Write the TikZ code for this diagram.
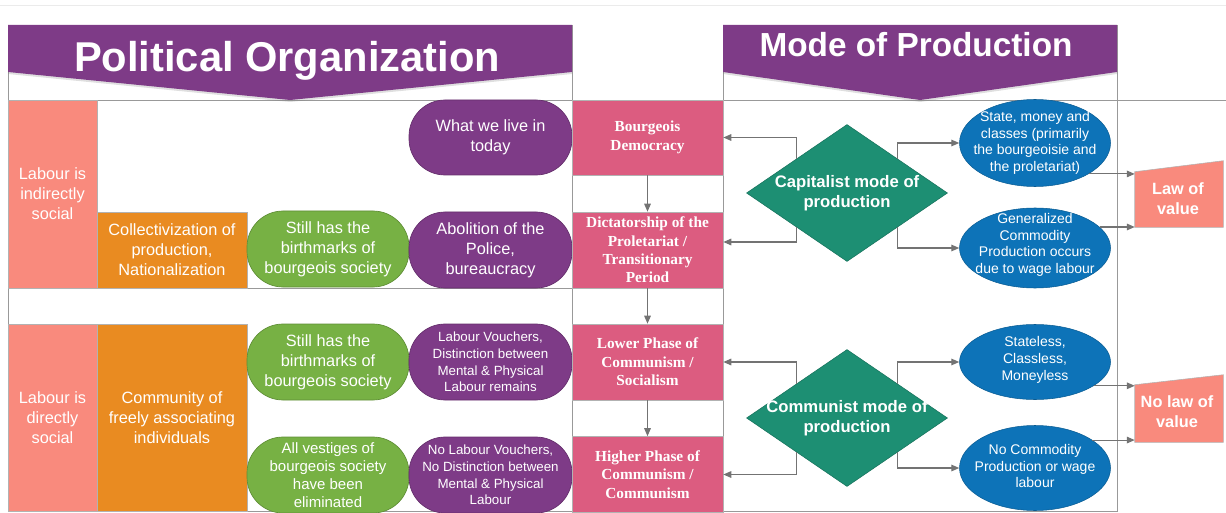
\documentclass[tikz,border=0pt]{standalone}
\usepackage{fontspec}
\setmainfont{Liberation Sans}
\newfontfamily\phasefont{Liberation Serif}
\usepackage{tikz}
\usetikzlibrary{arrows.meta}
\usetikzlibrary{positioning,calc}
\usetikzlibrary{shapes,shadows}
\usepackage{xcolor}
\definecolor{salmon}{HTML}{F98A7D}
\definecolor{ochre}{HTML}{E98B21}
\definecolor{leaf}{HTML}{77B144}
\definecolor{plum}{HTML}{7E3B87}
\definecolor{rose}{HTML}{DC5C80}
\definecolor{jade}{HTML}{1D8F73}
\definecolor{ocean}{HTML}{0D73B8}
\tikzset{
    every node/.style={font=\rmfamily},
    arrow/.style={
        draw=black!55,
        line width=0.8pt,
        -{Triangle[length=6pt, width=5pt]}
    },
    frame/.style={
        draw=black!40,
        line width=0.6pt
    }
}

\begin{document}
\begin{tikzpicture}[x=0.75pt, y=-0.75pt]
  \tikzset{
    box/.style={
      draw=black!30,
      line width=0.5pt,
      inner sep=0pt,
      align=center,
      text=white,
      font=\fontsize{12.25}{15}\selectfont
    },
    labourbox/.style={box, fill=salmon, minimum width=66.75pt},
    ochrebox/.style={box, fill=ochre, minimum width=112.5pt},
    pill/.style={box, rounded corners=27pt, minimum height=57pt},
    greenpill/.style={pill, fill=leaf, draw=leaf!80!black, minimum width=121.5pt},
    purplepill/.style={pill, fill=plum, draw=plum!80!black, minimum width=122.25pt},
    phase/.style={box, fill=rose, minimum width=113.25pt, minimum height=57pt,
      font=\phasefont\bfseries\fontsize{11.5}{13.75}\selectfont},
    modediamond/.style={diamond, fill=jade, draw=jade!80!black, inner sep=0pt,
      minimum width=150.75pt, minimum height=102.75pt},
    modetext/.style={align=center, text=white,
      font=\bfseries\fontsize{12.5}{15}\selectfont},
    oval/.style={ellipse, fill=ocean, draw=ocean!80!black, inner sep=0pt,
      minimum width=113.25pt},
    ovaltext/.style={align=center, text=white,
      font=\fontsize{10.5}{12.5}\selectfont},
    valuebox/.style={inner sep=0pt, minimum width=66pt},
    valuetext/.style={align=center, text=white,
      font=\bfseries\fontsize{12.25}{15}\selectfont},
    banner/.style={fill=plum, drop shadow={shadow xshift=0pt, shadow yshift=-1.5pt, opacity=0.25}},
    title/.style={anchor=base, text=white, inner sep=0pt}
  }

  \useasboundingbox (0,0) rectangle (1226,513);
  \draw[black!8] (0,5) -- (1226,5);

  % frames
  \draw[frame] (8,25) -- (8,511) -- (1117,511) -- (1117,25);
  \draw[frame] (572,25) -- (572,511);
  \draw[frame] (723,25) -- (723,511);
  \draw[frame] (8,100) -- (1226,100);
  \draw[frame] (8,288) -- (572,288);

  % headers
  \fill[banner] (8,25) -- (572,25) -- (572,72) -- (290,100) -- (8,72) -- cycle;
  \fill[banner] (723,25) -- (1117,25) -- (1117,72) -- (920,100) -- (723,72) -- cycle;
  \node[title, font=\bfseries\fontsize{31.25}{34}\selectfont] (poltitle) at (287,72) {Political Organization};
  \node[title, font=\bfseries\fontsize{25}{28}\selectfont] (modetitle) at (916,57) {Mode of Production};

  % political organization
  \node[labourbox, minimum height=141pt] (indirect) at (52.5,194) {Labour is\\indirectly\\social};
  \node[labourbox, minimum height=140.25pt] (direct) at (52.5,417.5) {Labour is\\directly\\social};
  \node[ochrebox, minimum height=57pt] (collect) at (172,250) {Collectivization of\\production,\\Nationalization};
  \node[ochrebox, minimum height=140.25pt] (commune) at (172,417.5) {Community of\\freely associating\\individuals};

  \node[greenpill] (birthA) at (328,249) {Still has the\\birthmarks of\\bourgeois society};
  \node[greenpill] (birthB) at (328,362) {Still has the\\birthmarks of\\bourgeois society};
  \node[greenpill, font=\fontsize{11.25}{13.5}\selectfont] (vestige) at (328,475) {All vestiges of\\bourgeois society\\have been\\eliminated};

  \node[purplepill, minimum height=56.25pt] (today) at (490.5,137.5) {What we live in\\today};
  \node[purplepill] (police) at (490.5,250) {Abolition of the\\Police,\\bureaucracy};
  \node[purplepill, font=\fontsize{10}{12.5}\selectfont] (vouchers) at (490.5,362) {Labour Vouchers,\\Distinction between\\Mental \& Physical\\Labour remains};
  \node[purplepill, font=\fontsize{10}{12.5}\selectfont] (novouch) at (490.5,475) {No Labour Vouchers,\\No Distinction between\\Mental \& Physical\\Labour};

  \node[phase, minimum height=56.25pt] (bourg) at (647.5,137.5) {Bourgeois\\Democracy};
  \node[phase] (dictat) at (647.5,250) {Dictatorship of the\\Proletariat /\\Transitionary\\Period};
  \node[phase] (lower) at (647.5,362) {Lower Phase of\\Communism /\\Socialism};
  \node[phase] (higher) at (647.5,474.5) {Higher Phase of\\Communism /\\Communism};

  \draw[arrow] (bourg) -- (dictat);
  \draw[arrow] (dictat) -- (lower);
  \draw[arrow] (lower) -- (higher);

  % mode of production
  \node[modediamond] (capital) at (847,193) {};
  \node[modetext] (capitalT) at (capital) {Capitalist mode of\\production};
  \node[modediamond] (commun) at (847,418) {};
  \node[modetext] (communT) at (commun) {Communist mode of\\production};

  \node[oval, minimum height=65.25pt] (state) at (1035,143) {};
  \node[ovaltext] (stateT) at (state) {State, money and\\classes (primarily\\the bourgeoisie and\\the proletariat)};
  \node[oval, minimum height=60pt] (commod) at (1035,248) {};
  \node[ovaltext] (commodT) at (1035,245) {Generalized\\Commodity\\Production occurs\\due to wage labour};
  \node[oval, minimum height=56.25pt] (stateless) at (1035,362) {};
  \node[ovaltext] (statelessT) at (1035,360) {Stateless,\\Classless,\\Moneyless};
  \node[oval, minimum height=63.75pt] (nocommod) at (1035,468) {};
  \node[ovaltext] (nocommodT) at (1035,466) {No Commodity\\Production or wage\\labour};

  \draw[arrow] (capital.north west) |- (bourg.east);
  \draw[arrow] (capital.south west) |- ([yshift=6pt]dictat.east);
  \draw[arrow] (capital.north east) |- (state.west);
  \draw[arrow] (capital.south east) |- (commod.west);
  \draw[arrow] (commun.north west) |- (lower.east);
  \draw[arrow] (commun.south west) |- (higher.east);
  \draw[arrow] (commun.north east) |- (stateless.west);
  \draw[arrow] (commun.south east) |- (nocommod.west);

  % law of value
  \node[valuebox, minimum height=49.5pt] (law) at (1179,194) {};
  \filldraw[fill=salmon, draw=black!30] (law.south west) -- (law.south east) -- (law.north east)
    -- ([yshift=-8.25pt]law.north west) -- cycle;
  \node[valuetext] (lawT) at (1178,199) {Law of\\value};
  \node[valuebox, minimum height=50.25pt] (nolaw) at (1179,408.5) {};
  \filldraw[fill=salmon, draw=black!30] (nolaw.south west) -- (nolaw.south east) -- (nolaw.north east)
    -- ([yshift=-7.5pt]nolaw.north west) -- cycle;
  \node[valuetext] (nolawT) at (1177,412) {No law of\\value};

  \draw[arrow] (state.330) -- (law.west |- state.330);
  \draw[arrow] (commod.18) -- (law.west |- commod.18);
  \draw[arrow] (stateless.338) -- (nolaw.west |- stateless.338);
  \draw[arrow] (nocommod.26) -- (nolaw.west |- nocommod.26);
\end{tikzpicture}
\end{document}
